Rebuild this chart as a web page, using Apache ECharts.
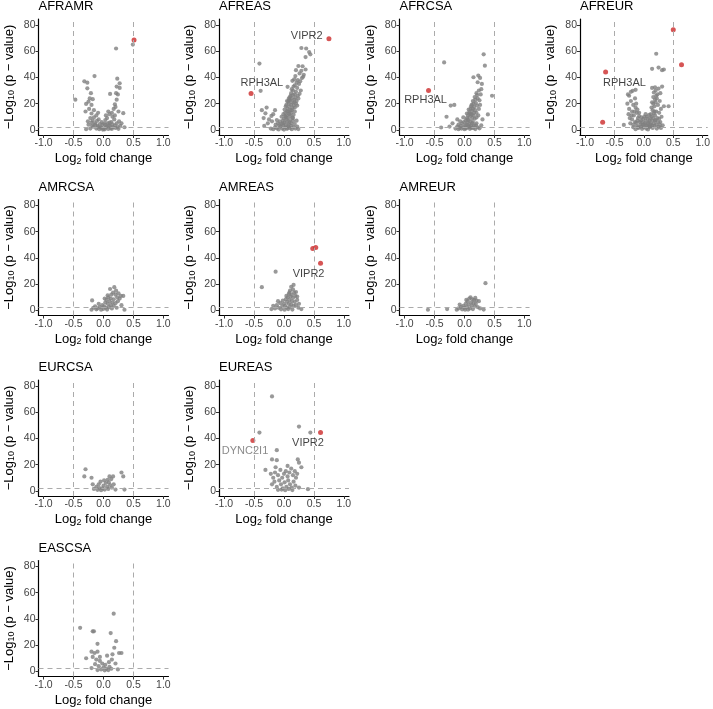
<!DOCTYPE html>
<html><head><meta charset="utf-8">
<script src="https://cdn.jsdelivr.net/npm/echarts@6/dist/echarts.min.js"></script>
<style>html,body{margin:0;padding:0;background:#fff}#c{width:713px;height:709px}</style>
</head><body><div id="c"></div>
<script>
// ---- panel layout (names per row of the facet grid) ----
const panelRows = [['AFRAMR','AFREAS','AFRCSA','AFREUR'],['AMRCSA','AMREAS','AMREUR'],['EURCSA','EUREAS'],['EASCSA']];
const xTicks = [-1.0,-0.5,0.0,0.5,1.0];
const yTicks = [0,20,40,60,80];
const foldThresholds = [-0.5, 0.5];
const pThreshold = 2.3;

// ---- data: [log2FC, -log10 p] ----
const AFRAMR_gray = [[0.49,65],[0.21,62],[-0.15,41],[-0.32,37],[-0.27,36],[-0.47,23],[0.23,39],[0.27,35.5],[0.22,33],[0.27,32],[0.11,27.4],[-0.27,31.7],[-0.23,24],[-0.18,23.4],[-0.29,19.8],[-0.25,21.5],[-0.2,19],[0.22,23],[0.19,19.5],[0.17,16],[0.33,12.7],[-0.29,0.5],[-0.3,14],[-0.24,16],[-0.2,12.5],[-0.16,15],[0.2,17.5],[0.25,14],[0.14,13],[0.15,10],[-0.22,9],[-0.12,11],[0.1,12],[-0.18,7],[0.18,8],[-0.14,5],[0.13,6],[0.22,5],[-0.08,8],[0.06,9],[-0.03,6],[0.03,7.5],[-0.1,3],[0.09,3.5],[-0.05,2],[0.05,2.5],[0,1],[-0.02,3.8],[0.02,0.4],[-0.12,1],[0.12,1.2],[-0.17,2.4],[0.16,2],[0.2,1.5],[-0.22,1],[0.25,0.8],[0.28,3],[-0.25,4],[0.24,2.2],[-0.07,0.5],[0.08,0.7],[0.35,2],[-0.06,4.5],[0.01,4.8],[0.1,5.5],[-0.19,3.3],[0.3,5],[-0.26,6.5],[0.15,4.2],[-0.11,6.8],[0.04,11],[0.08,14],
[-0.04,1.5],[0.04,1.8],[-0.09,2.2],[0.11,2.8],[-0.14,3.8],[0.14,0.8],[0.19,3.4],[-0.2,5.5],[0.26,6.5],[0.03,4],[-0.01,0.2],[0.07,5],[-0.16,9.5],[0.19,11],[-0.09,13],[0.21,28],[-0.21,28],[0.24,27]];
const AFRAMR_red = [[0.51,68.5]];
const AFRAMR_labels = [];

const AFREAS_gray = [[0.29,62.4],[0.37,62],[0.42,59.3],[0.44,57.6],[0.36,55.5],[-0.41,50.5],[0.24,48.7],[0.31,48.5],[0.29,45],[0.2,45.5],[0.36,46],[0.33,42],[0.14,37.4],[0.17,38.5],[0.3,39.5],[-0.39,29.8],[0.06,32.8],[0.25,35],[0.22,32],[0.28,30],[0.19,41],[0.26,43],[0.32,40.5],
[0.12,28],[0.15,30],[0.18,27],[0.2,29],[0.23,26],[0.1,25],[0.16,33],[0.26,27.5],[0.08,24],
[0.05,22],[0.08,20],[0.1,22.5],[0.12,19],[0.14,21],[0.17,23],[0.2,20],[0.03,18],[0.06,16],[0.09,17.5],[0.11,15],[0.14,16.5],[0.18,17],[0.22,18.5],[0.01,15.5],
[-0.04,10],[-0.01,12],[0.02,13],[0.04,11],[0.06,9],[0.08,12.5],[0.1,10.5],[0.12,13],[0.14,9.5],[0.16,11.5],[0.18,14],[0,8.5],[0.03,9.8],[0.07,14.2],
[-0.14,4],[-0.1,5],[-0.07,6.5],[-0.04,4.5],[-0.02,7],[0.01,5.5],[0.03,3.5],[0.05,6],[0.08,4.2],[0.1,7.5],[0.12,5],[0.15,6.8],[-0.12,7.5],
[-0.22,1],[-0.18,0.5],[-0.15,2],[-0.12,1.2],[-0.09,0.3],[-0.06,2.5],[-0.03,1],[0,0.2],[0.02,2],[0.05,0.8],[0.07,2.8],[0.1,1.5],[0.13,0.5],[0.16,2.2],[0.19,1],[0.22,2.5],[0.24,0.6],
[-0.37,15],[-0.31,12.6],[-0.29,17],[-0.21,10.6],[-0.15,15],[-0.25,8],[-0.34,9],[-0.18,12],[-0.27,5],[-0.2,6.5],[-0.33,3],
[0.04,19],[0.07,21.5],[0.09,23],[0.11,26],[0.13,24],[0.15,26.5],[0.17,21],[0.19,24.5],[0.21,22],[0.24,24],[0.13,31],[0.18,34],[0.21,36],[0.23,38],[0.27,37],[0.02,10.5],[0.05,14],[0.09,12],[0.13,15],[0.16,18.5],[-0.02,5],[0.04,8],[0.09,6],[-0.08,3.5],[-0.01,3],[0.06,1.5],[0.12,3],[0.18,4.5],[0.21,7],[0.15,9]];
const AFREAS_red = [[0.75,69.4],[-0.55,27.8]];
const AFREAS_labels = [['VIPR2',0.38,71.2],['RPH3AL',-0.37,35.9]];

const AFRCSA_gray = [[-0.34,51.4],[0.32,57.6],[0.34,48.9],[0.15,40.1],[0.23,41.4],[0.26,39.6],[0.22,36.3],[0.29,35],[0.46,26],[0.39,11.8],[-0.23,18.5],[-0.17,19],[-0.39,1.8],
[0.24,30],[0.2,28],[0.27,27],[0.17,25],[0.22,24],[0.25,22.5],[0.14,22],[0.19,20.5],[0.12,19],[0.16,17.5],[0.21,18.5],[0.1,16],[0.13,14.5],[0.18,15],[0.08,13.5],[0.11,12],[0.15,11],[0.2,13],[0.24,16],[0.06,11],[0.09,10],[0.13,9],[0.17,8.5],[0.04,9],[0.07,7.5],[0.1,6.5],[0.14,6],[0.2,5],[0.02,7],[0.05,5.5],[0.08,4.5],[0.11,3.5],[0.16,3],[0.22,2],
[-0.15,1],[-0.12,2.5],[-0.1,4],[-0.08,1.5],[-0.06,3],[-0.04,5],[-0.02,2],[0,0.5],[0.01,3.5],[0.03,1.2],[0.06,2.2],[0.09,0.8],[0.12,1.5],[0.18,0.6],[0.25,1.2],[-0.2,5],[-0.25,2.5],[-0.3,10],[-0.12,8],[-0.07,6.5],[-0.02,9.5],[0.28,3.5],[0.3,8],
[0.18,23],[0.21,26.5],[0.15,20],[0.11,18],[0.07,15.5],[0.12,11.5],[0.16,13],[0.05,8],[0.09,12.5],[0.14,16],[0.03,4],[0.07,2.8],[0.1,2],[0.13,5],[-0.05,1],[-0.1,0.5],[0.15,1.5],[0.19,3.5],[0.2,9.5],[0.23,11],[0.26,19],[0.28,31],[-0.01,6],[0.04,12.5],[0.01,1.5]];
const AFRCSA_red = [[-0.6,30.1]];
const AFRCSA_labels = [['RPH3AL',-0.65,23]];

const AFREUR_gray = [[0.21,58],[0.14,46.5],[0.25,47.5],[0.31,45.5],[0.34,46],[-0.19,29.8],[-0.14,30.5],[-0.25,26],[0.14,32],[0.19,32.5],[0.25,31.5],[0.31,33],[0.17,28.5],[0.23,27],[-0.34,3.8],[0.42,18],[0.34,18],
[-0.28,20],[-0.22,22],[-0.18,19],[-0.15,24],[-0.25,16],[-0.2,14],[-0.14,17],[-0.26,12],[-0.17,11],[-0.12,13],[-0.1,9],[-0.2,8],[-0.23,5],[-0.15,6],
[0.12,12],[0.15,15],[0.18,18],[0.2,21],[0.22,24],[0.16,20],[0.13,17],[0.21,14],[0.24,19],[0.27,22],[0.19,11],[0.23,9],[0.26,13],[0.29,16],[0.11,9],[0.14,7],[0.17,5],[0.2,7.5],[0.28,6],
[-0.12,3],[-0.09,1.5],[-0.06,4],[-0.03,0.8],[0,2],[0.02,5],[0.04,1],[0.06,3],[0.08,6],[0.1,2.5],[0.12,4.5],[0.15,1.5],[0.18,3],[0.22,1],[0.25,2.5],[-0.05,7],[-0.01,8.5],[0.05,10],[0.09,11.5],[-0.08,10.5],[0.03,12],[-0.18,2],[-0.14,0.5],[0.29,1.5],[0.32,3.5],[0.07,0.3],[-0.02,4],
[-0.13,5.5],[-0.11,7],[-0.1,2],[-0.07,6],[-0.05,2.5],[-0.04,9.5],[-0.02,6],[0,4],[0.01,10],[0.03,7],[0.04,3.5],[0.06,8.5],[0.07,5],[0.09,2],[0.1,7],[0.11,4],[0.13,10],[0.14,3],[0.16,9],[0.17,12.5],[0.19,7],[0.21,4],[0.24,6],[0.26,8.5],[0.27,4],[0.3,10],[0.16,25],[0.19,23],[0.21,26],[0.18,14],[0.14,21],[-0.13,20],[-0.16,14],[-0.11,15.5],[-0.08,13],[-0.21,11],[-0.24,9],[-0.18,4],[-0.27,27],[-0.22,29],[0.2,30],[0.28,28]];
const AFREUR_red = [[0.5,76.3],[0.64,49.7],[-0.65,44.2],[-0.7,5.8]];
const AFREUR_labels = [['RPH3AL',-0.33,35.9]];

const AMRCSA_gray = [[-0.19,7.6],[0.18,17.7],[0.11,16.3],[0.21,15],[0.29,11],[0.33,11],[0.25,13],[0.16,13.5],[0.2,12],[0.13,12],[0.23,10],[0.27,9],[0.08,10],[0.12,9],[0.17,8.5],[0.05,8],[0.1,7],[0.15,6],[0.2,5.5],[0.24,7],[0.03,6],[0.07,5],[0.12,4],[0.17,3.5],[-0.02,4],[0.01,3],[0.04,2],[0.09,2.5],[0.14,1.5],[-0.06,2.5],[-0.1,1.5],[-0.14,3],[-0.17,2],[-0.12,0.8],[-0.04,0.5],[0,1.2],[0.06,0.6],[0.22,2],[0.3,4],[-0.08,5],[0.02,9],[0.07,11.5],[-0.2,0.5],[0.35,0.5]];
const AMRCSA_red = [];
const AMRCSA_labels = [];

const AMREAS_gray = [[-0.14,29.5],[-0.37,17.7],[0.16,19.4],[0.29,1],[0.12,18],[0.15,16],[0.1,15],[0.17,13.5],[0.13,12],[0.2,14],[0.08,12.5],[0.11,10.5],[0.15,9.5],[0.19,11],[0.06,10],[0.09,8],[0.13,7],[0.18,6.5],[0.22,8],[0.03,8.5],[0.05,6.5],[0.08,5],[0.12,4.5],[0.16,3.5],[0.2,4],[0,5],[0.02,3.5],[0.05,2],[0.1,2.5],[-0.03,3],[-0.06,5.5],[-0.09,2],[-0.12,4],[-0.15,1.5],[-0.18,3.5],[-0.21,1],[-0.1,7],[-0.05,0.8],[0.01,0.5],[0.07,1],[0.14,0.6],[0.24,2],[-0.02,7.5],[0.04,11],[0.09,13.5],[0.22,10.5],[0.25,5]];
const AMREAS_red = [[0.53,48],[0.48,47.2],[0.61,35.9]];
const AMREAS_labels = [['VIPR2',0.41,27.8]];

const AMREUR_gray = [[0.35,20.7],[-0.61,0.5],[-0.29,1],[0.1,10],[0.08,9],[0.13,8.5],[0.16,8],[0.2,7.5],[0.24,7],[0.05,7],[0.11,6],[0.15,5.5],[0.19,5],[0.02,5],[0.07,4.5],[0.12,3.5],[0.17,3],[0.22,2.5],[-0.02,3.5],[0,2],[0.04,2.5],[0.09,1.5],[0.14,1],[-0.06,2.5],[-0.1,1.5],[-0.08,4.5],[-0.04,0.8],[0.01,0.5],[0.06,0.6],[0.26,1.5],[0.32,0.6],[-0.13,0.5],[0.03,8],[0.18,9.5]];
const AMREUR_red = [];
const AMREUR_labels = [];

const EURCSA_gray = [[-0.3,16.5],[-0.32,11],[-0.2,10],[0.3,14],[0.33,11],[0.1,11],[0.16,11],[0.13,9],[0.07,8.5],[0.35,1],[-0.16,1.5],[-0.12,3],[-0.08,5],[-0.05,7],[-0.02,2],[0,4],[0.02,1],[0.04,6],[0.06,3],[0.08,1.5],[0.11,4.5],[0.14,2.5],[0.17,5],[0.2,1],[-0.1,0.8],[-0.04,0.5],[0.01,8],[-0.07,2.2],[0.09,6.5],[-0.18,5]];
const EURCSA_red = [];
const EURCSA_labels = [];

const EUREAS_gray = [[-0.2,72],[-0.41,44.4],[0.25,49],[0.44,44.4],[-0.12,31],[-0.2,24],[-0.12,23.4],[-0.31,16],[0.23,24],[0.25,21.5],[0.29,18],[0.4,1.3],[0.25,2.5],
[-0.22,13],[-0.18,10],[-0.15,14],[-0.1,12],[-0.06,16],[-0.03,10],[0,13],[0.03,15],[0.06,11],[0.09,14],[0.12,17],[0.15,12],[0.18,15],[0.2,10],[0.22,13],[-0.2,5],[-0.16,7],[-0.12,3],[-0.08,8],[-0.05,5],[-0.02,2],[0.01,6.5],[0.04,3],[0.07,8],[0.1,5],[0.13,2.5],[0.16,7],[0.19,4],[-0.1,0.8],[-0.04,1],[0.02,0.5],[0.08,1.5],[0.14,0.6],[-0.14,18],[0.06,19]];
const EUREAS_red = [[-0.52,38.3],[0.61,44.4]];
const EUREAS_labels = [['DYNC2I1',-0.65,30.7,'grey'],['VIPR2',0.40,36.3]];

const EASCSA_gray = [[0.17,44],[-0.39,33.2],[-0.18,30.5],[-0.16,30.5],[0.12,29.2],[-0.1,21],[0.21,23],[-0.2,15],[-0.15,14],[-0.1,15],[0.3,14],[-0.29,10],[0.15,13],[0.06,12],[-0.18,11],[-0.12,9],[-0.06,8],[-0.02,6],[0.03,5],[0.09,7],[0.14,9],[-0.08,4],[-0.14,5.5],[0,3],[0.05,2],[0.1,3.5],[0.2,6],[-0.04,1.5],[0.02,0.8],[0.08,1],[0.13,2],[-0.2,2.5],[-0.1,1],[0.24,1.5],[-0.06,11],[0.18,18],[0.26,14]];
const EASCSA_red = [];
const EASCSA_labels = [];

const panelData = {
  AFRAMR:[AFRAMR_gray,AFRAMR_red,AFRAMR_labels], AFREAS:[AFREAS_gray,AFREAS_red,AFREAS_labels],
  AFRCSA:[AFRCSA_gray,AFRCSA_red,AFRCSA_labels], AFREUR:[AFREUR_gray,AFREUR_red,AFREUR_labels],
  AMRCSA:[AMRCSA_gray,AMRCSA_red,AMRCSA_labels], AMREAS:[AMREAS_gray,AMREAS_red,AMREAS_labels],
  AMREUR:[AMREUR_gray,AMREUR_red,AMREUR_labels], EURCSA:[EURCSA_gray,EURCSA_red,EURCSA_labels],
  EUREAS:[EUREAS_gray,EUREAS_red,EUREAS_labels], EASCSA:[EASCSA_gray,EASCSA_red,EASCSA_labels]
};

// ---- build chart ----
const FONT = '"Liberation Sans", Arial, sans-serif';
const grids=[], xAxes=[], yAxes=[], titles=[], series=[];
const cellW = 180.5, cellH = 180.5, gLeft = 38.5, gTop = 19, gW = 130, gH = 116;
const richName = {
  n:{fontSize:13, color:'#000', fontFamily:FONT, lineHeight:15},
  s:{fontSize:9, color:'#000', fontFamily:FONT, lineHeight:6, verticalAlign:'bottom'}
};
let idx = 0;
panelRows.forEach((row, r) => {
  row.forEach((name, c) => {
    const L = gLeft + c*cellW, T = gTop + r*cellH;
    const [gray, red, labels] = panelData[name];
    grids.push({left:L, top:T, width:gW, height:gH, containLabel:false});
    titles.push({text:name, left:L, top:T-19, padding:0,
      textStyle:{fontSize:13, fontWeight:'normal', color:'#000', fontFamily:FONT}});
    xAxes.push({gridIndex:idx, type:'value', min:-1.085, max:1.085,
      splitLine:{show:false},
      axisLine:{onZero:false, lineStyle:{color:'#000', width:1.2}},
      axisTick:{show:true, length:3, customValues:xTicks, lineStyle:{color:'#333'}},
      axisLabel:{customValues:xTicks, formatter:v=>v.toFixed(1), fontSize:10.5, color:'#444', margin:3, fontFamily:FONT},
      name:'{n|Log}{s|2}{n| fold change}', nameLocation:'middle', nameGap:16,
      nameTextStyle:{rich:richName}});
    yAxes.push({gridIndex:idx, type:'value', min:-3.9, max:84.5,
      splitLine:{show:false},
      axisLine:{onZero:false, lineStyle:{color:'#000', width:1.2}},
      axisTick:{show:true, length:3, customValues:yTicks, lineStyle:{color:'#333'}},
      axisLabel:{customValues:yTicks, fontSize:10.5, color:'#444', margin:3, fontFamily:FONT},
      name:'{n|\u2212Log}{s|10}{n| (p \u2212 value)}', nameLocation:'middle', nameGap:22, nameRotate:90,
      nameTextStyle:{rich:richName}});
    series.push({type:'scatter', xAxisIndex:idx, yAxisIndex:idx, data:gray, symbolSize:4.2,
      itemStyle:{color:'#7f7f7f'}, z:2, silent:true,
      markLine:{silent:true, symbol:['none','none'], label:{show:false}, animation:false,
        lineStyle:{color:'#ababab', type:[5,4], width:1},
        data:[...foldThresholds.map(v=>({xAxis:v})), {yAxis:pThreshold}]}});
    if (red.length) series.push({type:'scatter', xAxisIndex:idx, yAxisIndex:idx, data:red, symbolSize:5,
      itemStyle:{color:'#cc2a2a'}, z:4, silent:true});
    if (labels.length) series.push({type:'scatter', xAxisIndex:idx, yAxisIndex:idx, z:5, silent:true,
      symbolSize:1, itemStyle:{color:'rgba(0,0,0,0)'},
      data:labels.map(l=>({name:l[0], value:[l[1],l[2]],
        label:{color: l[3]==='grey' ? '#6e6e6e' : '#111'}})),
      label:{show:true, position:'inside', formatter:'{b}', fontSize:11, fontFamily:FONT}});
    idx++;
  });
});

const chart = echarts.init(document.getElementById('c'), null, {renderer:'canvas'});
chart.setOption({backgroundColor:'#fff', animation:false, title:titles, grid:grids, xAxis:xAxes, yAxis:yAxes, series});
</script></body></html>
